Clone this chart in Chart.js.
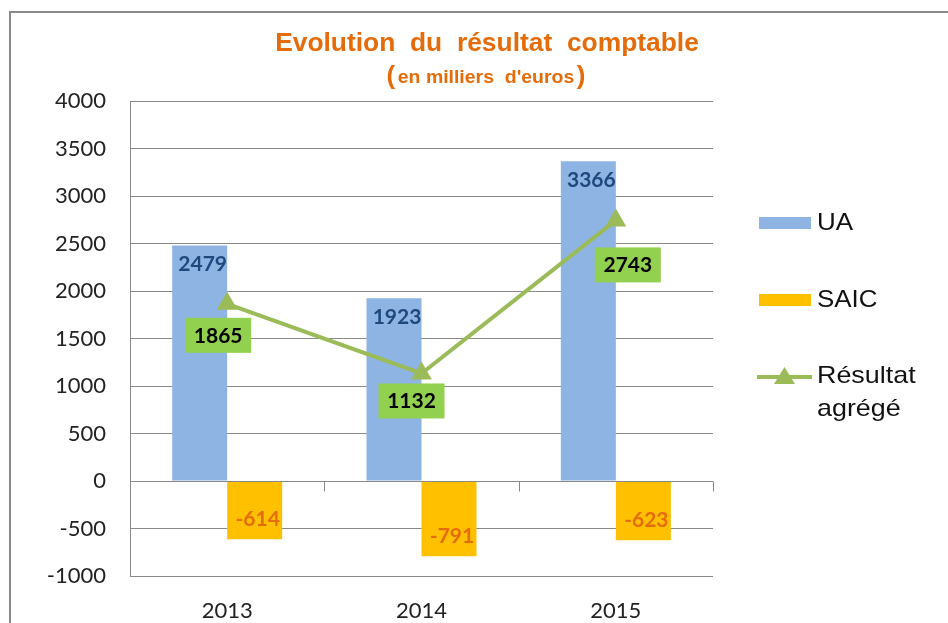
<!DOCTYPE html>
<html><head><meta charset="utf-8">
<script src="https://cdn.jsdelivr.net/npm/chart.js@4"></script>
<style>html,body{margin:0;padding:0;background:#fff;}#wrap{position:relative;width:948px;height:623px;}</style>
</head><body><div id="wrap"><canvas id="c" width="948" height="623"></canvas></div>
<script>
const categories = ['2013', '2014', '2015'];
const uaValues = [2479, 1923, 3366];
const saicValues = [-614, -791, -623];
const resultValues = [1865, 1132, 2743];
const seriesNames = ['UA', 'SAIC', ['Résultat', 'agrégé']];
const titleText = 'Evolution  du  résultat  comptable';
const subtitleText = 'en milliers  d\'euros';
const yMin = -1000, yMax = 4000, yStep = 500;

const BLUE = '#8EB4E3', GOLD = '#FFC000', GREEN = '#9BBB59';

function stretchedText(ctx, text, x, y, sx) {
  ctx.save();
  ctx.translate(x, y);
  ctx.scale(sx, 1);
  ctx.fillText(text, 0, 0);
  ctx.restore();
}

const framePlugin = {
  id: 'frame',
  beforeDraw(chart) {
    const ctx = chart.ctx;
    ctx.save();
    ctx.fillStyle = '#fff';
    ctx.fillRect(0, 0, chart.width, chart.height);
    ctx.strokeStyle = '#8a8a8a';
    ctx.lineWidth = 2;
    ctx.beginPath();
    ctx.moveTo(10, chart.height + 5);
    ctx.lineTo(10, 12);
    ctx.lineTo(chart.width + 5, 12);
    ctx.stroke();
    ctx.restore();
  }
};

const titlePlugin = {
  id: 'titles',
  afterDraw(chart) {
    const ctx = chart.ctx;
    ctx.save();
    ctx.fillStyle = '#E46C0A';
    ctx.textAlign = 'center';
    ctx.textBaseline = 'middle';
    ctx.font = 'bold 26px "Liberation Sans", Arial, sans-serif';
    stretchedText(ctx, titleText, 487, 44, 1.015);
    ctx.font = 'bold 18px "Liberation Sans", Arial, sans-serif';
    const w = ctx.measureText(subtitleText).width * 1.08;
    stretchedText(ctx, subtitleText, 486, 78, 1.08);
    ctx.font = 'bold 26px "Liberation Sans", Arial, sans-serif';
    ctx.fillText('(', 486 - w / 2 - 7, 77);
    ctx.fillText(')', 486 + w / 2 + 7, 77);
    ctx.restore();
  }
};

const legendPlugin = {
  id: 'customLegend',
  afterDraw(chart) {
    const ctx = chart.ctx;
    const ds = chart.data.datasets;
    ctx.save();
    ctx.font = '24px "Liberation Sans", Arial, sans-serif';
    ctx.textBaseline = 'middle';
    ctx.textAlign = 'left';
    ctx.fillStyle = ds[0].backgroundColor;
    ctx.fillRect(759, 217, 52, 12);
    ctx.fillStyle = '#111';
    stretchedText(ctx, seriesNames[0], 817, 223, 1.08);
    ctx.fillStyle = ds[1].backgroundColor;
    ctx.fillRect(759, 294, 52, 12);
    ctx.fillStyle = '#111';
    stretchedText(ctx, seriesNames[1], 817, 300, 1.08);
    ctx.strokeStyle = ds[2].borderColor;
    ctx.lineWidth = 4;
    ctx.beginPath();
    ctx.moveTo(757, 377); ctx.lineTo(812, 377); ctx.stroke();
    ctx.fillStyle = ds[2].borderColor;
    ctx.beginPath();
    ctx.moveTo(784.5, 367); ctx.lineTo(795, 384); ctx.lineTo(774, 384); ctx.closePath(); ctx.fill();
    ctx.fillStyle = '#111';
    stretchedText(ctx, seriesNames[2][0], 817, 376, 1.12);
    stretchedText(ctx, seriesNames[2][1], 817, 409, 1.12);
    ctx.restore();
  }
};

const axisPlugin = {
  id: 'zeroAxis',
  afterDatasetsDraw(chart) {
    const ctx = chart.ctx;
    const x = chart.scales.x, y = chart.scales.y;
    const y0 = Math.round(y.getPixelForValue(0)) + 0.5;
    ctx.save();
    ctx.strokeStyle = '#898989';
    ctx.lineWidth = 1;
    ctx.beginPath();
    ctx.moveTo(chart.chartArea.left, y0);
    ctx.lineTo(chart.chartArea.right, y0);
    const n = categories.length;
    for (let i = 0; i <= n; i++) {
      const px = Math.round(x.getPixelForValue(i - 0.5)) + 0.5;
      ctx.moveTo(px, y0);
      ctx.lineTo(px, y0 + 10);
    }
    ctx.stroke();
    ctx.restore();
  }
};

const labelPlugin = {
  id: 'valueLabels',
  afterDatasetsDraw(chart) {
    const ctx = chart.ctx;
    ctx.save();
    ctx.textAlign = 'center';
    ctx.textBaseline = 'middle';
    ctx.font = 'bold 21px Lato, "Open Sans", sans-serif';
    chart.getDatasetMeta(0).data.forEach((el, i) => {
      ctx.fillStyle = '#1F497D';
      ctx.fillText(String(uaValues[i]), el.x + 3, el.y + 19);
    });
    chart.getDatasetMeta(1).data.forEach((el, i) => {
      ctx.fillStyle = '#E46C0A';
      ctx.fillText(String(saicValues[i]), el.x + 3, el.y - 20);
    });
    chart.getDatasetMeta(2).data.forEach((el, i) => {
      const cx = el.x + [-9, -10, 12][i];
      const cy = el.y + [31, 27, 44][i];
      ctx.fillStyle = '#92D050';
      ctx.fillRect(cx - 33, cy - 17, 66, 35);
      ctx.fillStyle = '#000';
      ctx.fillText(String(resultValues[i]), cx, cy + 1);
    });
    ctx.restore();
  }
};

new Chart(document.getElementById('c'), {
  data: {
    labels: categories,
    datasets: [
      { type: 'bar', label: 'UA', data: uaValues, backgroundColor: BLUE, categoryPercentage: 0.566, barPercentage: 1, order: 2 },
      { type: 'bar', label: 'SAIC', data: saicValues, backgroundColor: GOLD, categoryPercentage: 0.566, barPercentage: 1, order: 2 },
      { type: 'line', label: 'Résultat agrégé', data: resultValues, borderColor: GREEN, backgroundColor: GREEN, borderWidth: 4,
        pointStyle: 'triangle', pointRadius: 12, pointBackgroundColor: GREEN, pointBorderColor: GREEN, pointBorderWidth: 0, tension: 0, order: 1 }
    ]
  },
  options: {
    responsive: false,
    devicePixelRatio: 1,
    animation: false,
    layout: { padding: { top: 101, right: 235, left: 0, bottom: 0 } },
    plugins: { legend: { display: false }, title: { display: false }, tooltip: { enabled: false } },
    scales: {
      x: {
        grid: { display: false, drawTicks: false },
        border: { display: false },
        ticks: { font: { family: 'Lato, "Open Sans", sans-serif', size: 22 }, color: '#222', padding: 22 },
        afterFit(s) { s.height = 47; }
      },
      y: {
        min: yMin, max: yMax,
        ticks: { stepSize: yStep, font: { family: 'Lato, "Open Sans", sans-serif', size: 22 }, color: '#222', padding: 24,
                 callback: (v) => String(v) },
        grid: { color: '#898989', drawTicks: false },
        border: { color: '#898989' },
        afterFit(s) { s.width = 130; }
      }
    }
  },
  plugins: [framePlugin, axisPlugin, labelPlugin, legendPlugin, titlePlugin]
});
</script></body></html>
